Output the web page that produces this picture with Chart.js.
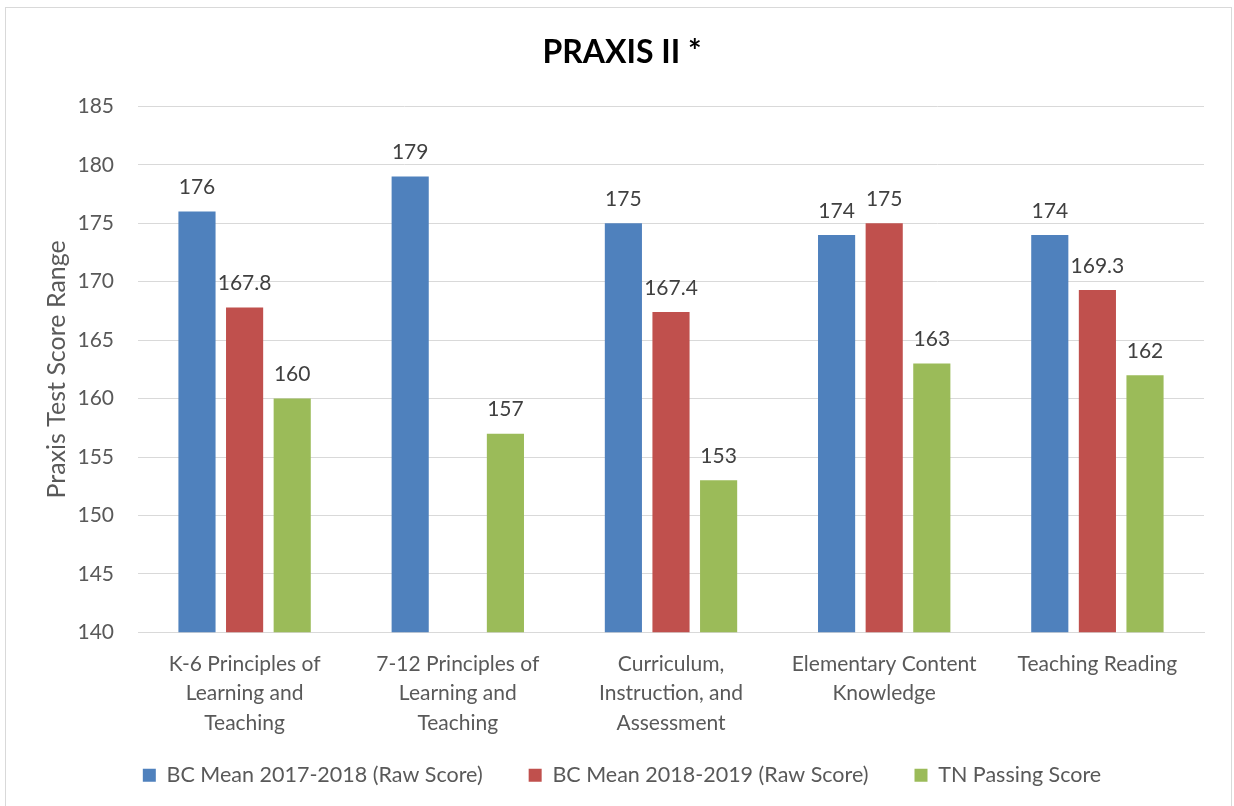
<!DOCTYPE html>
<html>
<head>
<meta charset="utf-8">
<script src="https://cdn.jsdelivr.net/npm/chart.js@4.4.6/dist/chart.umd.js"></script>
<style>
  html, body { margin: 0; padding: 0; background: #fff; }
  #wrap { position: relative; width: 1234px; height: 806px; }
</style>
</head>
<body>
<div id="wrap"><canvas id="chart" width="1234" height="806"></canvas></div>
<script>
const categories = [
  ['K-6 Principles of', 'Learning and', 'Teaching'],
  ['7-12 Principles of', 'Learning and', 'Teaching'],
  ['Curriculum,', 'Instruction, and', 'Assessment'],
  ['Elementary Content', 'Knowledge'],
  ['Teaching Reading']
];
const mean1718 = [176, 179, 175, 174, 174];
const mean1819 = [167.8, null, 167.4, 175, 169.3];
const tnPassing = [160, 157, 153, 163, 162];
const yTicks = { min: 140, max: 185, step: 5 };

const FONT = 'Lato, "Open Sans", sans-serif';
const GREY = '#595959';

// frame around the whole chart
const framePlugin = {
  id: 'frame',
  beforeDraw(chart) {
    const { ctx } = chart;
    ctx.save();
    ctx.strokeStyle = '#d9d9d9';
    ctx.lineWidth = 1;
    ctx.strokeRect(5.5, 7.5, 1226, 810);
    ctx.restore();
  }
};

// value labels above bars
const valueLabels = {
  id: 'valueLabels',
  afterDatasetsDraw(chart) {
    const { ctx } = chart;
    ctx.save();
    ctx.font = `21px ${FONT}`;
    ctx.fillStyle = '#404040';
    ctx.textAlign = 'center';
    ctx.textBaseline = 'middle';
    chart.data.datasets.forEach((ds, i) => {
      const meta = chart.getDatasetMeta(i);
      meta.data.forEach((bar, j) => {
        const v = ds.data[j];
        if (v === null || v === undefined) return;
        ctx.fillText(String(v), bar.x, bar.y - 24);
      });
    });
    ctx.restore();
  }
};

new Chart(document.getElementById('chart'), {
  type: 'bar',
  data: {
    labels: categories,
    datasets: [
      { label: 'BC Mean 2017-2018 (Raw Score)', data: mean1718, backgroundColor: '#4F81BD' },
      { label: 'BC Mean 2018-2019 (Raw Score)', data: mean1819, backgroundColor: '#C0504D' },
      { label: 'TN Passing Score', data: tnPassing, backgroundColor: '#9BBB59' }
    ]
  },
  options: {
    responsive: false,
    animation: false,
    layout: { padding: { left: 25, right: 15, top: 0, bottom: 10 } },
    datasets: { bar: { categoryPercentage: 0.67, barPercentage: 0.78 } },
    scales: {
      x: {
        grid: { display: false },
        border: { display: true, color: '#d9d9d9' },
        ticks: {
          color: GREY,
          font: { family: FONT, size: 21, lineHeight: 1.4 },
          padding: 9,
          maxRotation: 0,
          autoSkip: false
        },
        // labels run down toward the legend, as in the original
        afterFit(scale) {
          scale.height -= 28;
          scale._computeLabelArea = () => undefined;
        }
      },
      y: {
        min: yTicks.min,
        max: yTicks.max,
        ticks: {
          stepSize: yTicks.step,
          color: GREY,
          font: { family: FONT, size: 21 },
          padding: 24
        },
        grid: { color: '#d9d9d9', drawTicks: false },
        border: { display: false },
        title: {
          display: true,
          text: 'Praxis Test Score Range',
          color: GREY,
          font: { family: FONT, size: 25 },
          padding: { top: 17, bottom: 0 }
        },
        afterFit(scale) { scale.width = 113; }
      },
      // empty right gutter so the plot ends where the original does
      y2: {
        position: 'right',
        display: true,
        grid: { display: false },
        border: { display: false },
        ticks: { display: false },
        afterFit(scale) { scale.width = 15; }
      }
    },
    plugins: {
      title: {
        display: true,
        text: 'PRAXIS II *',
        color: '#000',
        font: { family: FONT, size: 32, weight: 'bold' },
        padding: { top: 33, bottom: 35 }
      },
      legend: {
        position: 'bottom',
        labels: {
          color: GREY,
          font: { family: FONT, size: 21.5 },
          boxWidth: 13,
          boxHeight: 13,
          padding: 46
        }
      },
      tooltip: { enabled: false }
    }
  },
  plugins: [framePlugin, valueLabels]
});
</script>
</body>
</html>
